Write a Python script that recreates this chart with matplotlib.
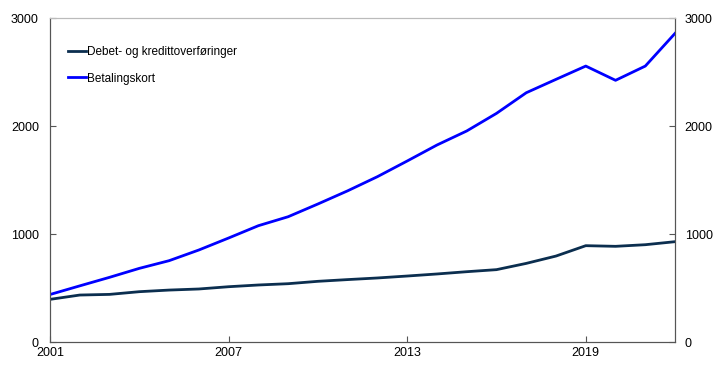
import matplotlib
matplotlib.use('Agg')
import matplotlib.pyplot as plt

plt.rcParams['font.family'] = ['Liberation Sans', 'DejaVu Sans']

years = list(range(2001, 2023))
# Debet- og kredittoverføringer
transfers = [395, 435, 441, 466, 481, 491, 512, 528, 540, 562, 578, 593,
             611, 630, 651, 670, 728, 796, 892, 886, 901, 929]
# Betalingskort
cards = [440, 520, 599, 682, 753, 852, 963, 1077, 1160, 1278, 1400, 1531,
         1676, 1824, 1954, 2117, 2308, 2432, 2555, 2423, 2555, 2858]

fig = plt.figure(figsize=(7.22, 3.72), dpi=100)
ax = fig.add_axes([0.0693, 0.0806, 0.8657, 0.871])

ax.plot(years, transfers, color='#0b2e4f', lw=2.0, label='Debet- og kredittoverføringer')
ax.plot(years, cards, color='#0000ff', lw=2.0, label='Betalingskort')

ax.set_xlim(2001, 2022)
ax.set_ylim(0, 3000)
ax.set_xticks([2001, 2007, 2013, 2019])
ax.set_yticks([0, 1000, 2000, 3000])

ax2 = ax.twinx()
ax2.set_ylim(0, 3000)
ax2.set_yticks([0, 1000, 2000, 3000])

for a in (ax, ax2):
    a.tick_params(direction='in', labelsize=9, length=4, color='#555555', colors='black')
    for s in a.spines.values():
        s.set_color('#555555')
    a.spines['top'].set_color('#bbbbbb')
ax.tick_params(axis='y', pad=8)
ax2.tick_params(axis='y', pad=7)

leg = ax.legend(loc='upper left', bbox_to_anchor=(0.012, 0.945), frameon=False,
                fontsize=8.5, handlelength=1.5, handletextpad=0.1, labelspacing=1.2)

fig.savefig('out.png', dpi=100)
